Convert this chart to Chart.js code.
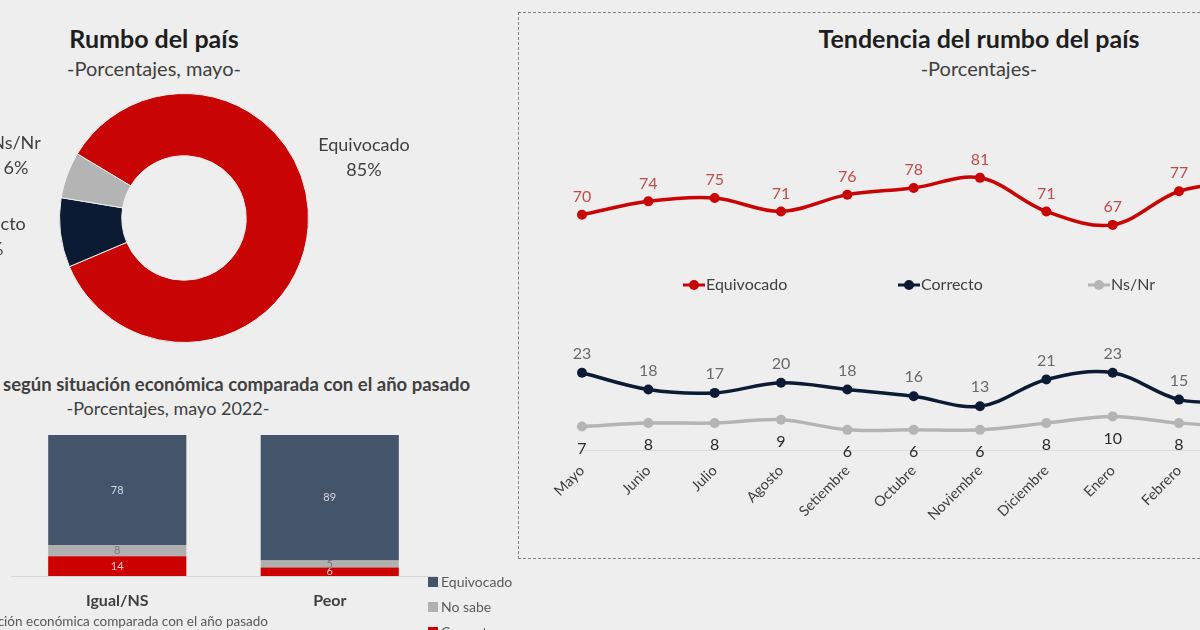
<!DOCTYPE html>
<html><head><meta charset="utf-8">
<script src="https://cdn.jsdelivr.net/npm/chart.js@4.4.1/dist/chart.umd.min.js"></script>
<style>
html,body{margin:0;padding:0;width:1200px;height:630px;overflow:hidden;background:#eeeeee;font-family:Lato,"Open Sans",sans-serif;}
.t{position:absolute;white-space:nowrap;line-height:1.2;}
.c{text-align:center;}
canvas{position:absolute;}
#box{position:absolute;left:518px;top:12px;width:800px;height:545px;border:1.5px dashed #808080;}
</style></head><body>
<div id="box"></div>
<div class="t c" style="left:4px;width:300px;top:23px;font-size:25px;font-weight:bold;color:#1e1e1e;">Rumbo del país</div>
<div class="t c" style="left:4px;width:300px;top:56px;font-size:20px;color:#404040;">-Porcentajes, mayo-</div>
<div class="t" style="left:3px;top:373px;font-size:18.5px;font-weight:bold;color:#404040;">según situación económica comparada con el año pasado</div>
<div class="t c" style="left:18px;width:300px;top:398px;font-size:18px;color:#404040;">-Porcentajes, mayo 2022-</div>
<div class="t c" style="left:779px;width:400px;top:23px;font-size:25px;font-weight:bold;color:#1e1e1e;">Tendencia del rumbo del país</div>
<div class="t c" style="left:779px;width:400px;top:56px;font-size:20px;color:#404040;">-Porcentajes-</div>
<canvas id="donut" width="480" height="280" style="left:0;top:80px;"></canvas>
<canvas id="bars" width="540" height="205" style="left:0;top:425px;"></canvas>
<canvas id="trend" width="890" height="466" style="left:518px;top:90px;"></canvas>
<script>
// ---- data ----
const donutLabels = ['Equivocado', 'Correcto', 'Ns/Nr'];
const donutValues = [85, 9, 6];

const barCategories = ['Igual/NS', 'Peor'];
const barCorrecto = [14, 6];
const barNoSabe = [8, 5];
const barEquivocado = [78, 89];

const months = ['Mayo','Junio','Julio','Agosto','Setiembre','Octubre','Noviembre','Diciembre','Enero','Febrero','Marzo','Abril','Mayo'];
const trendEquivocado = [70, 74, 75, 71, 76, 78, 81, 71, 67, 77, 80, 83, 85];
const trendCorrecto = [23, 18, 17, 20, 18, 16, 13, 21, 23, 15, 14, 11, 9];
const trendNsNr = [7, 8, 8, 9, 6, 6, 6, 8, 10, 8, 7, 6, 6];

const FONT = 'Lato, "Open Sans", sans-serif';
const RED = '#c90404', NAVY = '#0c1a33', GRAY = '#b4b4b4';

// ---- doughnut ----
const donutLabelPlugin = {
  id: 'donutLabels',
  afterDraw(chart) {
    const ctx = chart.ctx;
    const arc = chart.getDatasetMeta(0).data[0];
    const cx = arc.x, cy = arc.y;
    const offs = [[180, -73], [-193, 6], [-168, -75]];
    ctx.save();
    ctx.font = '18px ' + FONT;
    ctx.fillStyle = '#404040';
    ctx.textAlign = 'center';
    ctx.textBaseline = 'middle';
    donutLabels.forEach((l, i) => {
      ctx.fillText(l, cx + offs[i][0], cy + offs[i][1]);
      ctx.fillText(donutValues[i] + '%', cx + offs[i][0], cy + offs[i][1] + 25);
    });
    ctx.restore();
  }
};
new Chart(document.getElementById('donut'), {
  type: 'doughnut',
  data: { labels: donutLabels, datasets: [{ data: donutValues, backgroundColor: [RED, NAVY, GRAY], borderColor: '#eeeeee', borderWidth: 1 }] },
  options: {
    responsive: false, animation: false, rotation: -59, cutout: '50%',
    layout: { padding: { left: 59, top: 13, right: 171, bottom: 17 } },
    plugins: { legend: { display: false }, tooltip: { enabled: false } }
  },
  plugins: [donutLabelPlugin]
});

// ---- stacked bars ----
const barLabelPlugin = {
  id: 'barLabels',
  afterDatasetsDraw(chart) {
    const ctx = chart.ctx;
    const colors = ['#f6caca', '#7a7a7a', '#d5d9e0'];
    ctx.save();
    ctx.font = '11px ' + FONT;
    ctx.textAlign = 'center';
    ctx.textBaseline = 'middle';
    chart.data.datasets.forEach((ds, di) => {
      const meta = chart.getDatasetMeta(di);
      meta.data.forEach((el, i) => {
        ctx.fillStyle = colors[di];
        ctx.fillText(String(ds.data[i]), el.x, (el.y + el.base) / 2);
      });
    });
    // legend
    const leg = [['Equivocado', '#44546a'], ['No sabe', '#b0b0b0'], ['Correcto', '#cc0000']];
    ctx.font = '14px ' + FONT;
    ctx.textAlign = 'left';
    leg.forEach((it, i) => {
      const y = 157 + i * 25;
      ctx.fillStyle = it[1];
      ctx.fillRect(428, y - 5, 10, 10);
      ctx.fillStyle = '#595959';
      ctx.fillText(it[0], 441, y);
    });
    ctx.font = '13.5px ' + FONT;
    ctx.textAlign = 'right';
    ctx.fillStyle = '#595959';
    ctx.fillText('Situación económica comparada con el año pasado', 268, 197);
    ctx.restore();
  }
};
new Chart(document.getElementById('bars'), {
  type: 'bar',
  data: {
    labels: barCategories,
    datasets: [
      { label: 'Correcto', data: barCorrecto, backgroundColor: '#cc0000' },
      { label: 'No sabe', data: barNoSabe, backgroundColor: '#b0b0b0' },
      { label: 'Equivocado', data: barEquivocado, backgroundColor: '#44546a' }
    ]
  },
  options: {
    responsive: false, animation: false,
    categoryPercentage: 0.65, barPercentage: 1,
    layout: { padding: { left: 11, right: 104, top: 10, bottom: 0 } },
    scales: {
      x: {
        stacked: true,
        grid: { display: false, drawTicks: false },
        border: { display: true, color: '#d6d6d6' },
        ticks: { font: { size: 16, weight: 'bold', family: FONT }, color: '#404040', padding: 15 },
        afterFit(s) { s.height = 54; }
      },
      y: { stacked: true, display: false, min: 0, max: 100 }
    },
    plugins: { legend: { display: false }, tooltip: { enabled: false } }
  },
  plugins: [barLabelPlugin]
});

// ---- trend lines ----
const trendPlugin = {
  id: 'trendLabels',
  afterDatasetsDraw(chart) {
    const ctx = chart.ctx;
    const cfg = [
      { color: '#bf4a4a', dy: -18 },
      { color: '#6a6a6a', dy: -19 },
      { color: '#2a2a2a', dy: 22 }
    ];
    ctx.save();
    ctx.font = '16px ' + FONT;
    ctx.textAlign = 'center';
    ctx.textBaseline = 'middle';
    chart.data.datasets.forEach((ds, di) => {
      const meta = chart.getDatasetMeta(di);
      meta.data.forEach((el, i) => {
        ctx.fillStyle = cfg[di].color;
        ctx.fillText(String(ds.data[i]), el.x, el.y + cfg[di].dy);
      });
    });
    // legend
    const items = [['Equivocado', RED, 165], ['Correcto', NAVY, 380], ['Ns/Nr', GRAY, 570]];
    const y = 195;
    ctx.font = '16px ' + FONT;
    ctx.textAlign = 'left';
    items.forEach(it => {
      ctx.strokeStyle = it[1];
      ctx.lineWidth = 3;
      ctx.beginPath(); ctx.moveTo(it[2], y); ctx.lineTo(it[2] + 22, y); ctx.stroke();
      ctx.fillStyle = it[1];
      ctx.beginPath(); ctx.arc(it[2] + 11, y, 5, 0, Math.PI * 2); ctx.fill();
      ctx.fillStyle = '#404040';
      ctx.fillText(it[0], it[2] + 23, y);
    });
    ctx.restore();
  }
};
const lineDs = (label, data, color) => ({
  label, data, borderColor: color, backgroundColor: color,
  borderWidth: 3.5, pointRadius: 5, pointBorderWidth: 0, pointBackgroundColor: color,
  tension: 0.35, clip: false
});
new Chart(document.getElementById('trend'), {
  type: 'line',
  data: {
    labels: months,
    datasets: [
      lineDs('Equivocado', trendEquivocado, RED),
      lineDs('Correcto', trendCorrecto, NAVY),
      lineDs('Ns/Nr', trendNsNr, GRAY)
    ]
  },
  options: {
    responsive: false, animation: false,
    layout: { padding: { left: 64, right: 30, top: 24, bottom: 0 } },
    scales: {
      x: {
        offset: false,
        grid: { display: false, drawTicks: false },
        border: { display: true, color: '#dcdcdc' },
        ticks: { maxRotation: 45, minRotation: 45, autoSkip: false, font: { size: 14.5, family: FONT }, color: '#404040', padding: 12 },
        afterFit(s) { s.height = 106; }
      },
      y: { display: false, min: 0, max: 100 }
    },
    plugins: { legend: { display: false }, tooltip: { enabled: false } }
  },
  plugins: [trendPlugin]
});
</script>
</body></html>
